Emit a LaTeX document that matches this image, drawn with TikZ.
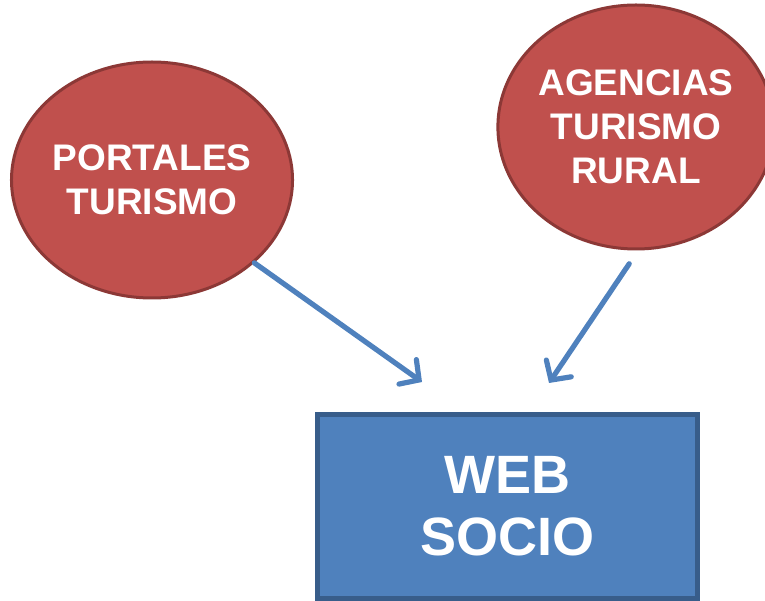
\documentclass[tikz,border=0pt]{standalone}
\usepackage{fontspec}
\setmainfont{Liberation Sans}
\usetikzlibrary{shapes, arrows.meta, positioning}

\definecolor{rojo}{HTML}{C0504D}
\definecolor{rojoborde}{HTML}{8C3836}
\definecolor{azul}{HTML}{4F81BD}
\definecolor{azulborde}{HTML}{385D8A}

\begin{document}
\begin{tikzpicture}[x=0.5pt,y=0.5pt,
  bubble/.style={ellipse, draw=rojoborde, fill=rojo, line width=1.5pt,
    text=white, font=\bfseries\fontsize{18.5}{22}\selectfont, align=center, inner sep=0pt},
  webbox/.style={rectangle, draw=azulborde, fill=azul, line width=2.5pt,
    text=white, font=\bfseries\fontsize{27}{31}\selectfont, align=center, inner sep=0pt},
  flecha/.style={draw=azul, line width=2.6pt, line cap=round,
    -{Straight Barb[length=7pt, width=15pt, line cap=round]}}]

  \useasboundingbox (0,0) rectangle (765,600);

  \node[bubble, minimum width=139pt, minimum height=118pt] (portales) at (152,420) {PORTALES\\TURISMO};
  \node[bubble, minimum width=134pt, minimum height=122pt] (agencias) at (636,473) {AGENCIAS\\TURISMO\\RURAL};
  \node[webbox, minimum width=190pt, minimum height=92pt] (web) at (507.5,93.5) {WEB\\SOCIO};

  \coordinate (tipA) at (422,218);
  \coordinate (tipB) at (549,217);

  \draw[flecha] (portales.-39) -- (tipA);
  \draw[flecha, shorten <=8pt] (agencias.-89) -- (tipB);
\end{tikzpicture}
\end{document}
